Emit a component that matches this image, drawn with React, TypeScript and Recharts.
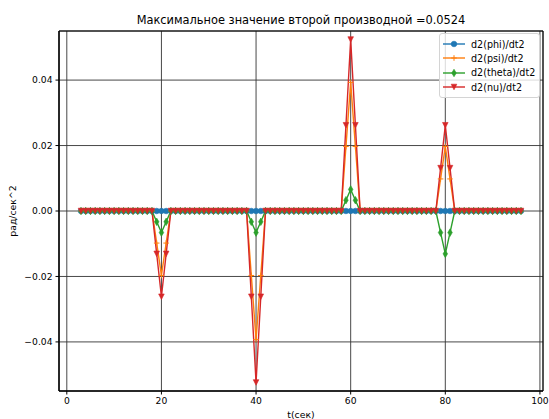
import { LineChart, Line, XAxis, YAxis, CartesianGrid, Legend, ReferenceArea, Label } from 'recharts';

// time samples, seconds
const time = [
  3, 4, 5, 6, 7, 8, 9, 10, 11, 12,
  13, 14, 15, 16, 17, 18, 19, 20, 21, 22,
  23, 24, 25, 26, 27, 28, 29, 30, 31, 32,
  33, 34, 35, 36, 37, 38, 39, 40, 41, 42,
  43, 44, 45, 46, 47, 48, 49, 50, 51, 52,
  53, 54, 55, 56, 57, 58, 59, 60, 61, 62,
  63, 64, 65, 66, 67, 68, 69, 70, 71, 72,
  73, 74, 75, 76, 77, 78, 79, 80, 81, 82,
  83, 84, 85, 86, 87, 88, 89, 90, 91, 92,
  93, 94, 95, 96,
];

const phi = [
  0, 0, 0, 0, 0, 0, 0, 0, 0, 0,
  0, 0, 0, 0, 0, 0, 0, 0, 0, 0,
  0, 0, 0, 0, 0, 0, 0, 0, 0, 0,
  0, 0, 0, 0, 0, 0, 0, 0, 0, 0,
  0, 0, 0, 0, 0, 0, 0, 0, 0, 0,
  0, 0, 0, 0, 0, 0, 0, 0, 0, 0,
  0, 0, 0, 0, 0, 0, 0, 0, 0, 0,
  0, 0, 0, 0, 0, 0, 0, 0, 0, 0,
  0, 0, 0, 0, 0, 0, 0, 0, 0, 0,
  0, 0, 0, 0,
];

const psi = [
  0, 0, 0, 0, 0, 0, 0, 0, 0, 0,
  0, 0, 0, 0, 0, 0, -0.0098, -0.0197, -0.0098, 0,
  0, 0, 0, 0, 0, 0, 0, 0, 0, 0,
  0, 0, 0, 0, 0, 0, -0.0197, -0.0393, -0.0197, 0,
  0, 0, 0, 0, 0, 0, 0, 0, 0, 0,
  0, 0, 0, 0, 0, 0, 0.0197, 0.0393, 0.0197, 0,
  0, 0, 0, 0, 0, 0, 0, 0, 0, 0,
  0, 0, 0, 0, 0, 0, 0.0098, 0.0197, 0.0098, 0,
  0, 0, 0, 0, 0, 0, 0, 0, 0, 0,
  0, 0, 0, 0,
];

const theta = [
  0, 0, 0, 0, 0, 0, 0, 0, 0, 0,
  0, 0, 0, 0, 0, 0, -0.0033, -0.0066, -0.0033, 0,
  0, 0, 0, 0, 0, 0, 0, 0, 0, 0,
  0, 0, 0, 0, 0, 0, -0.0033, -0.0066, -0.0033, 0,
  0, 0, 0, 0, 0, 0, 0, 0, 0, 0,
  0, 0, 0, 0, 0, 0, 0.0033, 0.0066, 0.0033, 0,
  0, 0, 0, 0, 0, 0, 0, 0, 0, 0,
  0, 0, 0, 0, 0, 0, -0.0066, -0.0131, -0.0066, 0,
  0, 0, 0, 0, 0, 0, 0, 0, 0, 0,
  0, 0, 0, 0,
];

const nu = [
  0, 0, 0, 0, 0, 0, 0, 0, 0, 0,
  0, 0, 0, 0, 0, 0, -0.0131, -0.0262, -0.0131, 0,
  0, 0, 0, 0, 0, 0, 0, 0, 0, 0,
  0, 0, 0, 0, 0, 0, -0.0262, -0.0524, -0.0262, 0,
  0, 0, 0, 0, 0, 0, 0, 0, 0, 0,
  0, 0, 0, 0, 0, 0, 0.0262, 0.0524, 0.0262, 0,
  0, 0, 0, 0, 0, 0, 0, 0, 0, 0,
  0, 0, 0, 0, 0, 0, 0.0131, 0.0262, 0.0131, 0,
  0, 0, 0, 0, 0, 0, 0, 0, 0, 0,
  0, 0, 0, 0,
];

const X_TICKS = [0, 20, 40, 60, 80, 100];
const Y_TICKS = [-0.04, -0.02, 0, 0.02, 0.04];
const X_DOMAIN: [number, number] = [-1.65, 100.65];
const Y_DOMAIN: [number, number] = [-0.055, 0.055];

const FONT = '"DejaVu Sans", sans-serif';

type Shape = 'circle' | 'plus' | 'diamond' | 'triangle';

const SERIES: { key: string; name: string; color: string; shape: Shape }[] = [
  { key: 'phi', name: 'd2(phi)/dt2', color: '#1f77b4', shape: 'circle' },
  { key: 'psi', name: 'd2(psi)/dt2', color: '#ff7f0e', shape: 'plus' },
  { key: 'theta', name: 'd2(theta)/dt2', color: '#2ca02c', shape: 'diamond' },
  { key: 'nu', name: 'd2(nu)/dt2', color: '#d62728', shape: 'triangle' },
];

const chartData = time.map((t, i) => ({
  t,
  phi: phi[i],
  psi: psi[i],
  theta: theta[i],
  nu: nu[i],
}));

const S = 2.8; // half marker size, px

const Marker = ({ shape, cx, cy, color }: { shape: Shape; cx: number; cy: number; color: string }) => {
  switch (shape) {
    case 'circle':
      return <circle cx={cx} cy={cy} r={S} fill={color} stroke={color} strokeWidth={0.6} />;
    case 'plus':
      return (
        <path
          d={`M${cx - S},${cy}H${cx + S}M${cx},${cy - S}V${cy + S}`}
          stroke={color}
          strokeWidth={1}
          fill="none"
        />
      );
    case 'diamond': {
      const h = S * 1.35;
      const w = h * 0.6;
      return (
        <path
          d={`M${cx},${cy - h}L${cx + w},${cy}L${cx},${cy + h}L${cx - w},${cy}Z`}
          fill={color}
          stroke={color}
          strokeWidth={0.6}
        />
      );
    }
    default:
      return (
        <path
          d={`M${cx - S},${cy - S}L${cx + S},${cy - S}L${cx},${cy + S}Z`}
          fill={color}
          stroke={color}
          strokeWidth={0.6}
        />
      );
  }
};

const LegendBox = () => (
  <div
    style={{
      boxSizing: 'border-box',
      width: 101,
      border: '1px solid #d4d4d4',
      borderRadius: 3,
      background: 'rgba(255,255,255,0.8)',
      padding: '3px 0 3px 3px',
      fontFamily: FONT,
      fontSize: 9.6,
      color: '#000',
    }}
  >
    {SERIES.map((s) => (
      <div key={s.key} style={{ display: 'flex', alignItems: 'center', height: 14.3 }}>
        <svg width={22} height={10} style={{ flex: 'none' }}>
          <line x1={0} x2={22} y1={5} y2={5} stroke={s.color} strokeWidth={1.4} />
          <Marker shape={s.shape} cx={11} cy={5} color={s.color} />
        </svg>
        <span style={{ marginLeft: 6, whiteSpace: 'nowrap' }}>{s.name}</span>
      </div>
    ))}
  </div>
);

const tickStyle = { fontSize: 9.2, fill: '#000', fontFamily: FONT };
const fmtY = (v: number) => v.toFixed(2).replace('-', '\u2212');

export default function App() {
  return (
    <div style={{ position: 'absolute', left: 0, top: 0, width: 549, height: 419, background: '#fff' }}>
      <div
        style={{
          position: 'absolute',
          top: 13,
          left: 59,
          width: 484,
          textAlign: 'center',
          fontFamily: FONT,
          fontSize: 11.4,
          lineHeight: '15px',
          color: '#000',
        }}
      >
        Максимальное значение второй производной =0.0524
      </div>
      <LineChart width={549} height={419} data={chartData} margin={{ top: 31, right: 6, bottom: 0, left: 0 }}>
        <CartesianGrid stroke="#333" strokeWidth={0.9} />
        <XAxis
          dataKey="t"
          type="number"
          domain={X_DOMAIN}
          ticks={X_TICKS}
          allowDataOverflow
          height={28}
          tickSize={3.5}
          tickMargin={3}
          stroke="#000"
          tick={tickStyle}
        >
          <Label value="t(сек)" position="insideBottom" offset={1} style={{ fontSize: 9.3, fontFamily: FONT, fill: '#000' }} />
        </XAxis>
        <YAxis
          type="number"
          domain={Y_DOMAIN}
          ticks={Y_TICKS}
          allowDataOverflow
          width={59}
          tickSize={3.5}
          tickMargin={3}
          stroke="#000"
          tick={tickStyle}
          tickFormatter={fmtY}
        >
          <Label
            value="рад/сек^2"
            angle={-90}
            position="insideLeft"
            offset={13}
            style={{ fontSize: 9.3, fontFamily: FONT, fill: '#000', textAnchor: 'middle' }}
          />
        </YAxis>
        {SERIES.map((s) => (
          <Line
            key={s.key}
            dataKey={s.key}
            name={s.name}
            type="linear"
            stroke={s.color}
            strokeWidth={1.4}
            isAnimationActive={false}
            activeDot={false}
            dot={(p: any) => <Marker key={`${s.key}-${p.index}`} shape={s.shape} cx={p.cx} cy={p.cy} color={s.color} />}
          />
        ))}
        <ReferenceArea
          x1={X_DOMAIN[0]}
          x2={X_DOMAIN[1]}
          y1={Y_DOMAIN[0]}
          y2={Y_DOMAIN[1]}
          fill="none"
          stroke="#000"
          strokeWidth={1}
          ifOverflow="visible"
        />
        <Legend
          layout="vertical"
          align="center"
          verticalAlign="middle"
          content={() => <LegendBox />}
          wrapperStyle={{ left: 439, top: 33, width: 101 }}
        />
      </LineChart>
    </div>
  );
}
